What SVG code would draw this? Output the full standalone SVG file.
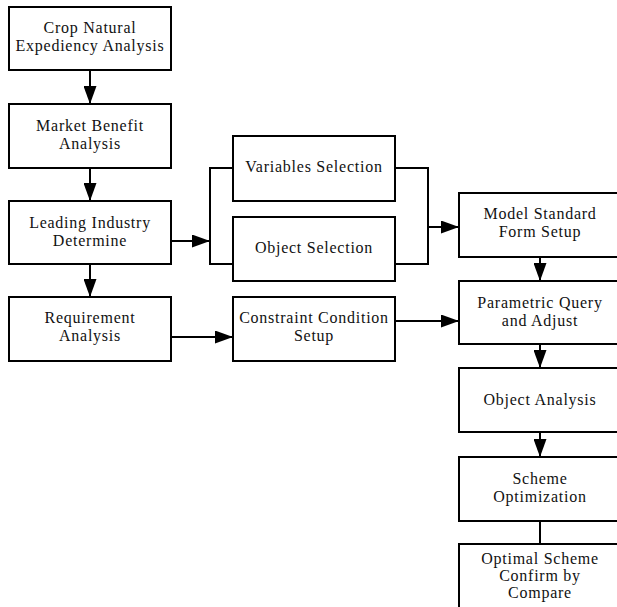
<svg xmlns="http://www.w3.org/2000/svg" width="617" height="607" viewBox="0 0 617 607">
<defs>
<marker id="ah" markerUnits="userSpaceOnUse" markerWidth="18" markerHeight="13" refX="18" refY="6.5" orient="auto">
<path d="M0,0 L18,6.5 L0,13 z" fill="#000"/>
</marker>
<style>
rect{fill:#fff;stroke:#000;stroke-width:2}
text{font-size:16px;letter-spacing:0.75px;fill:#111;text-anchor:middle}
.c path{fill:none;stroke:#000;stroke-width:2}
</style>
</defs>
<rect x="0" y="0" width="617" height="607" style="stroke:none"/>
<g class="c" id="connectors">
<path d="M90,70 V104" marker-end="url(#ah)"/>
<path d="M90,168 V201" marker-end="url(#ah)"/>
<path d="M90,264 V297" marker-end="url(#ah)"/>
<path d="M170,241 H210" marker-end="url(#ah)"/>
<path d="M233,168 H210 V264 H233"/>
<path d="M395,168 H428 V264 H395"/>
<path d="M428,227 H459" marker-end="url(#ah)"/>
<path d="M171,337 H233" marker-end="url(#ah)"/>
<path d="M395,321 H459" marker-end="url(#ah)"/>
<path d="M540,257 V281" marker-end="url(#ah)"/>
<path d="M540,344 V368" marker-end="url(#ah)"/>
<path d="M540,432 V457" marker-end="url(#ah)"/>
<path d="M540,521 V544"/>
</g>
<g id="nodes" font-family="Liberation Serif, DejaVu Serif, serif">
<g id="n1"><rect x="9" y="7" width="162" height="63"/><text x="90" y="33">Crop Natural</text><text x="90" y="50.5">Expediency Analysis</text></g>
<g id="n2"><rect x="9" y="104" width="162" height="64"/><text x="90" y="131">Market Benefit</text><text x="90" y="149">Analysis</text></g>
<g id="n3"><rect x="9" y="201" width="162" height="63"/><text x="90" y="228">Leading Industry</text><text x="90" y="245.5">Determine</text></g>
<g id="n4"><rect x="9" y="297" width="162" height="64"/><text x="90" y="323">Requirement</text><text x="90" y="341">Analysis</text></g>
<g id="n5"><rect x="233" y="136" width="162" height="65"/><text x="314" y="172">Variables Selection</text></g>
<g id="n6"><rect x="233" y="217" width="162" height="64"/><text x="314" y="252.5">Object Selection</text></g>
<g id="n7"><rect x="233" y="297" width="162" height="64"/><text x="314" y="323">Constraint Condition</text><text x="314" y="341">Setup</text></g>
<g id="n8"><rect x="459" y="193" width="162" height="64"/><text x="540" y="219">Model Standard</text><text x="540" y="237">Form Setup</text></g>
<g id="n9"><rect x="459" y="281" width="162" height="63"/><text x="540" y="308">Parametric Query</text><text x="540" y="326">and Adjust</text></g>
<g id="n10"><rect x="459" y="368" width="162" height="64"/><text x="540" y="405">Object Analysis</text></g>
<g id="n11"><rect x="459" y="457" width="162" height="64"/><text x="540" y="484">Scheme</text><text x="540" y="502">Optimization</text></g>
<g id="n12"><rect x="459" y="544" width="162" height="80"/><text x="540" y="564">Optimal Scheme</text><text x="540" y="581">Confirm by</text><text x="540" y="598">Compare</text></g>
</g>
</svg>
